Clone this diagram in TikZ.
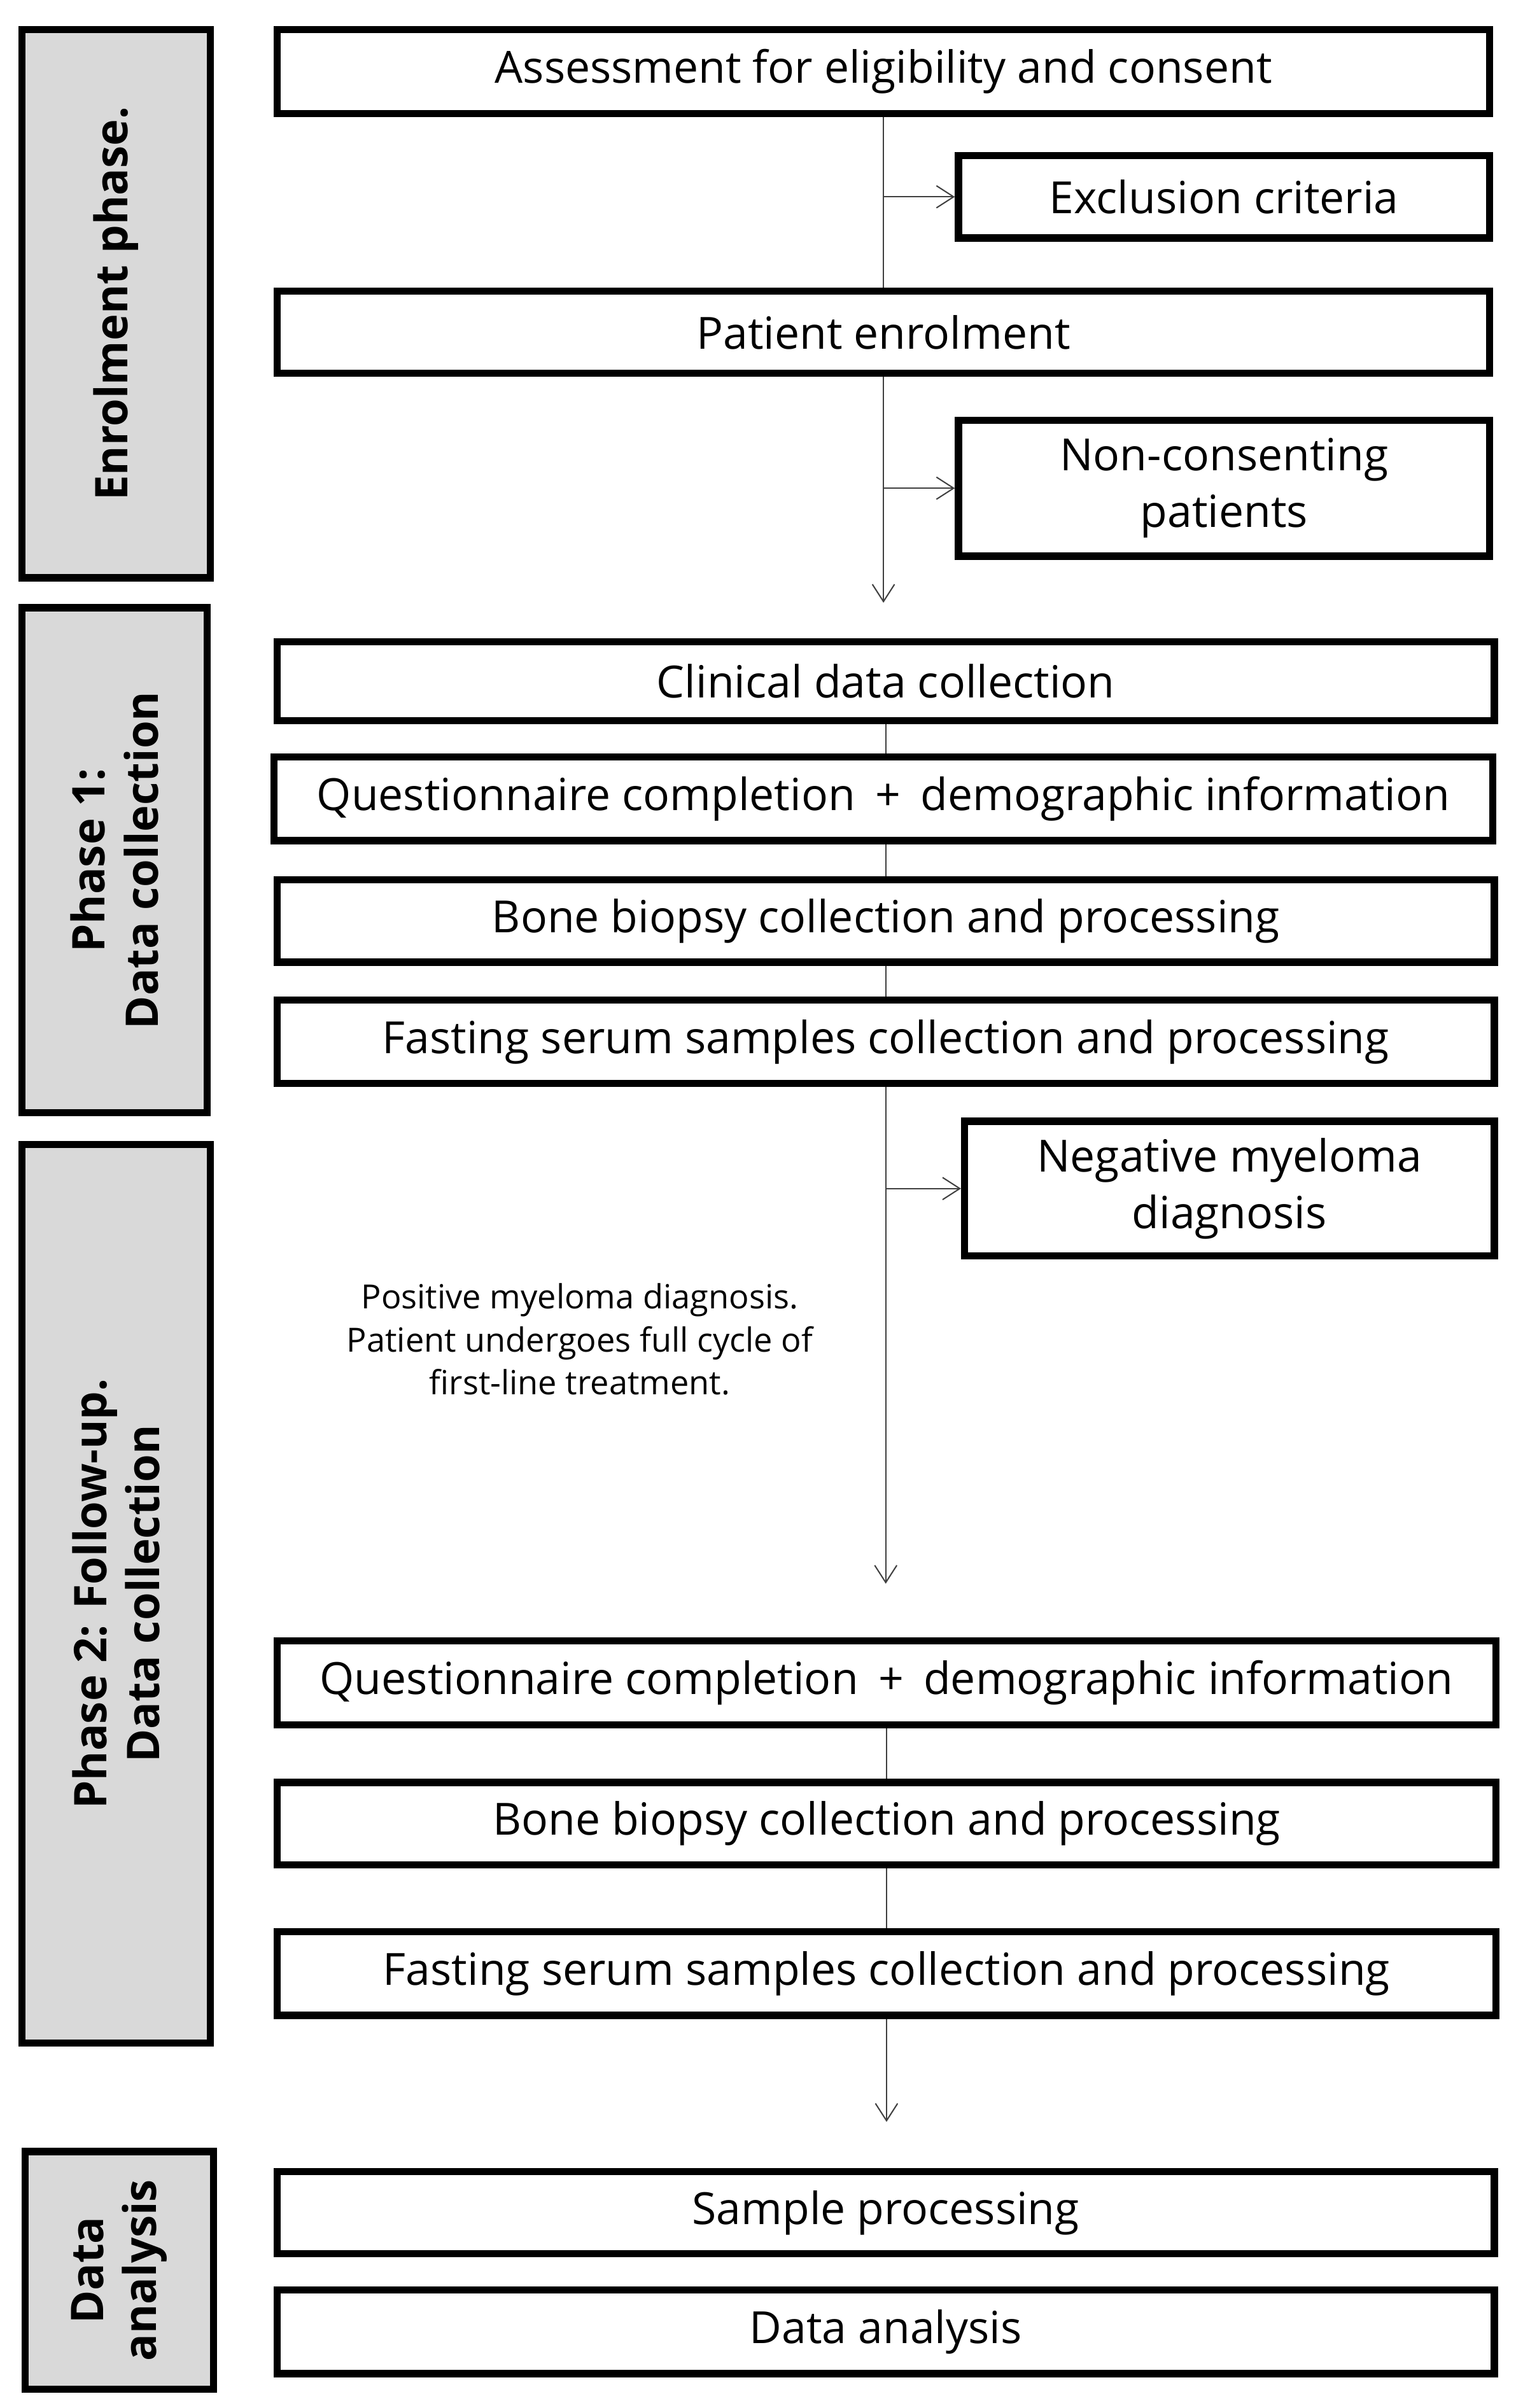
\documentclass[tikz,border=0pt]{standalone}
\usepackage{fontspec}
\setmainfont{Open Sans}
\usetikzlibrary{arrows.meta}
\newcommand\bx[7]{\node[#7, minimum width={(#4-#2-4.5)*0.025cm}, minimum height={(#5-#3-4.5)*0.025cm}] (#1) at ({(#2+#4)/2},{(#3+#5)/2}) {#6};}
\newcommand\plussep{\hspace{0.45em}+\hspace{0.45em}}
\begin{document}
\begin{tikzpicture}[x=0.025cm,y=-0.025cm,
  box/.style={draw=black, line width=3.3pt, fill=white, inner sep=0pt, align=center, font=\fontsize{20.5}{26.2}\selectfont},
  side/.style={draw=black, line width=3.3pt, fill=gray!30, inner sep=0pt},
  sidelab/.style={rotate=90, align=center, inner sep=0pt, font=\fontsize{20.8}{24.5}\selectfont\bfseries},
  conn/.style={draw=black!75, line width=0.6pt},
  arr/.style={conn, -{Straight Barb[length=0.28cm,width=0.36cm]}}]
\useasboundingbox (0,0) rectangle (990,1566.1);
% side boxes
\bx{s1}{12}{17}{139}{378}{}{side}
\node[sidelab] (l1) at (s1.center) {Enrolment phase.};
\bx{s2}{12}{393}{137}{726}{}{side}
\node[sidelab] (l2) at (s2.center) {Phase 1:\\Data collection};
\bx{s3}{12}{742}{139}{1331}{}{side}
\node[sidelab] (l3) at (s3.center) {Phase 2: Follow-up.\\Data collection};
\bx{s4}{14}{1397}{141}{1556}{}{side}
\node[sidelab] (l4) at (s4.center) {Data\\analysis};
% main boxes
\bx{A}{178}{17}{971}{76}{Assessment for eligibility and consent}{box}
\bx{E}{621}{99}{971}{157}{Exclusion criteria}{box}
\bx{P}{178}{187}{971}{245}{Patient enrolment}{box}
\bx{N}{621}{271}{971}{364}{Non-consenting\\patients}{box}
\bx{C}{178}{415}{974}{471}{Clinical data collection}{box}
\bx{Q}{176}{490}{973}{549}{Questionnaire completion\plussep demographic information}{box}
\bx{B}{178}{570}{974}{628}{Bone biopsy collection and processing}{box}
\bx{F}{178}{648}{974}{707}{Fasting serum samples collection and processing}{box}
\bx{G}{625}{727}{974}{819}{Negative myeloma\\diagnosis}{box}
\node[align=center, inner sep=0pt, font=\fontsize{15.4}{19.9}\selectfont] (pos) at (377,871) {Positive myeloma diagnosis.\\Patient undergoes full cycle of\\first-line treatment.};
\bx{Q2}{178}{1065}{975}{1124}{Questionnaire completion\plussep demographic information}{box}
\bx{B2}{178}{1157}{975}{1215}{Bone biopsy collection and processing}{box}
\bx{F2}{178}{1254}{975}{1313}{Fasting serum samples collection and processing}{box}
\bx{S}{178}{1410}{974}{1468}{Sample processing}{box}
\bx{D}{178}{1487}{974}{1546}{Data analysis}{box}
% coordinates
\coordinate (e1) at (574.5,392);
\coordinate (e2) at (574.5,1030);
\coordinate (e3) at (576,1380);
% connectors
\draw[conn] (A.south) -- (A.south |- P.north);
\draw[arr] (A.south |- E.west) -- (E.west);
\draw[arr] (P.south) -- (e1);
\draw[arr] (P.south |- N.west) -- (N.west);
\draw[conn] (C.south) -- (C.south |- Q.north);
\draw[conn] (C.south |- Q.south) -- (C.south |- B.north);
\draw[conn] (B.south) -- (B.south |- F.north);
\draw[arr] (F.south) -- (F.south |- e2);
\draw[arr] (F.south |- G.west) -- (G.west);
\draw[conn] (Q2.south) -- (Q2.south |- B2.north);
\draw[conn] (B2.south) -- (B2.south |- F2.north);
\draw[arr] (F2.south) -- (F2.south |- e3);
\end{tikzpicture}
\end{document}
